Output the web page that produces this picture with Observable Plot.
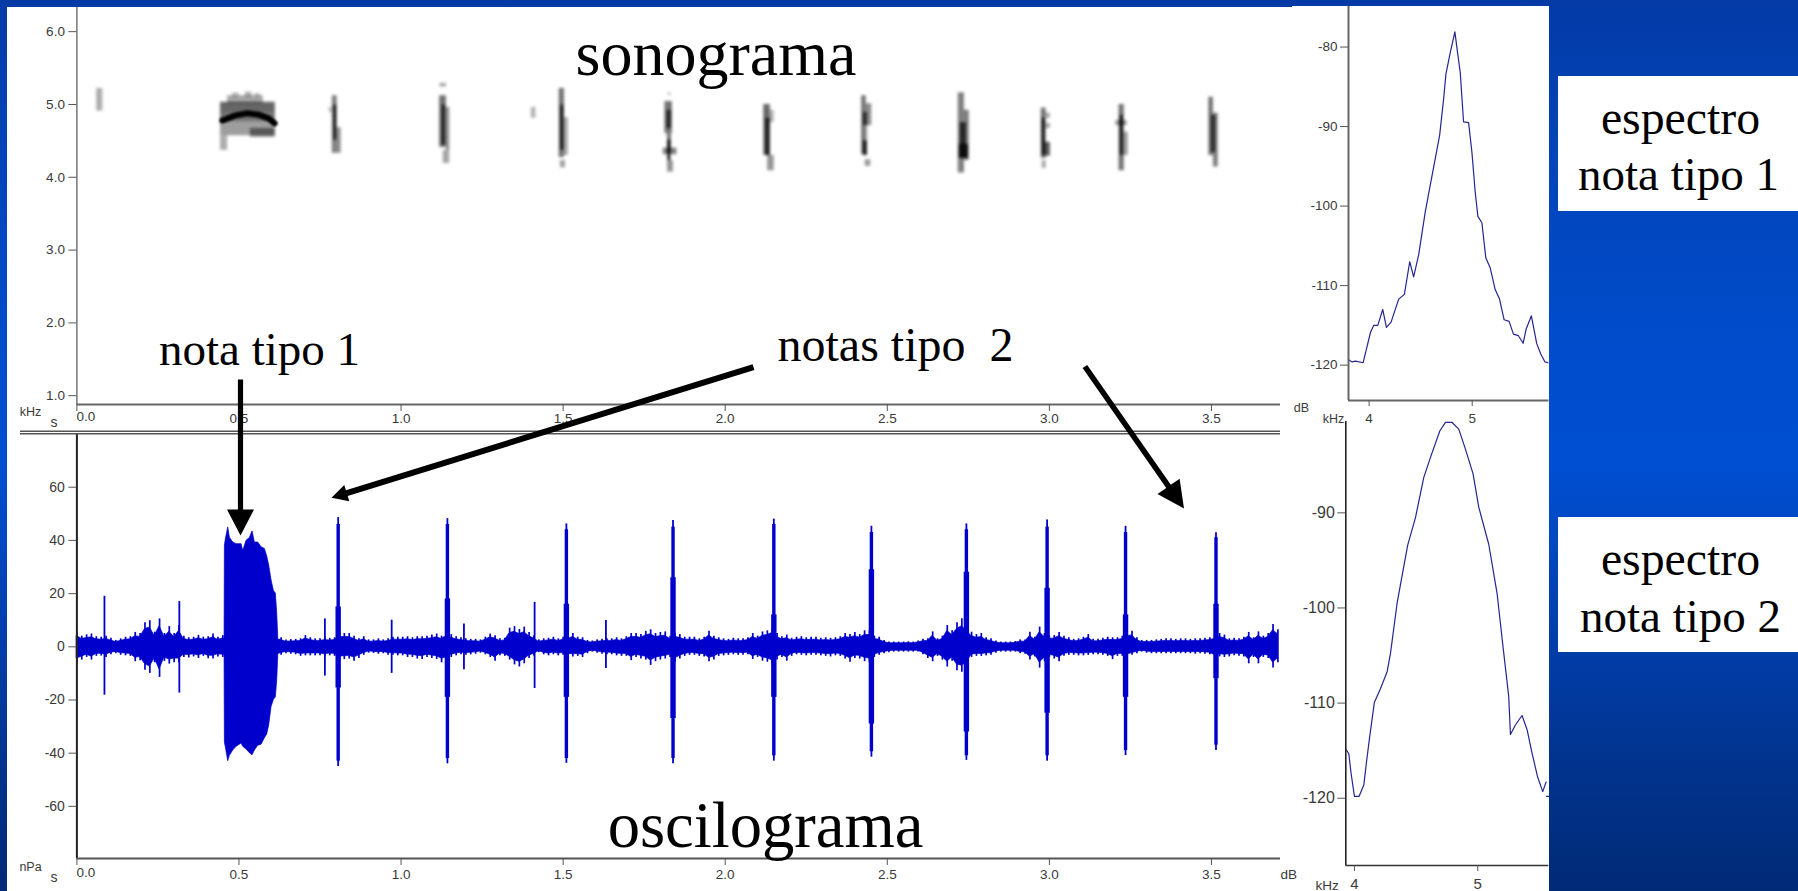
<!DOCTYPE html>
<html lang="es">
<head>
<meta charset="utf-8">
<title>sonograma y oscilograma</title>
<script src="https://cdn.jsdelivr.net/npm/d3@7"></script>
<script src="https://cdn.jsdelivr.net/npm/@observablehq/plot@0.6"></script>
<style>
html,body{margin:0;padding:0;overflow:hidden;background:#0045bd}
#slide{position:relative;width:1798px;height:891px;overflow:hidden;
  background:linear-gradient(180deg,#033aa6 0%,#0342b4 12%,#004ccb 38%,#004fd2 52%,#013fae 70%,#01348f 85%,#012a76 100%)}
.panel{position:absolute;background:#fff}
#slide svg{position:absolute;background:transparent}
</style>
</head>
<body>
<div id="slide">
  <div class="panel" style="left:7px;top:7px;width:1286px;height:884px"></div>
  <div class="panel" style="left:1292px;top:6px;width:256.5px;height:415px"></div>
  <div class="panel" style="left:1292px;top:421px;width:257px;height:470px"></div>
  <div class="panel" style="left:1558px;top:76px;width:240px;height:135px"></div>
  <div class="panel" style="left:1558px;top:517px;width:240px;height:135px"></div>
</div>
<script>
// ---------- shared tick values ----------
const timeTicks = [0, 0.5, 1.0, 1.5, 2.0, 2.5, 3.0, 3.5];
const freqTicks = [1, 2, 3, 4, 5, 6];
const pressureTicks = [-60, -40, -20, 0, 20, 40, 60];
const spectrum1Ticks = [-80, -90, -100, -110, -120];
const spectrum2Ticks = [-90, -100, -110, -120];
const spectrumKhzTicks = [4, 5];

// ---------- sonogram: patches of energy, [s from, s to, kHz low, kHz high, darkness] ----------
const sonogramPatches = [
  [.061,.080,4.91,5.22,.32],
  [.465,.575,5.01,5.12,.35],[.48,.5,5.1,5.16,.25],[.52,.54,5.1,5.17,.3],[.55,.565,5.1,5.15,.25],
  [.443,.612,4.88,5.03,.6],[.443,.612,4.76,4.88,.55],[.443,.612,4.57,4.76,.38],
  [.443,.465,4.37,4.57,.32],[.535,.612,4.55,4.67,.45],
  [.788,.803,4.33,5.12,.5],[.793,.801,4.51,4.99,.9],[.803,.815,4.33,4.68,.45],[.778,.788,4.89,4.96,.25],
  [1.12,1.14,5.24,5.29,.35],[1.119,1.14,4.41,5.12,.55],[1.127,1.136,4.44,4.99,.8],[1.14,1.15,4.37,4.96,.45],[1.13,1.15,4.19,4.37,.35],
  [1.402,1.416,4.81,4.96,.3],
  [1.488,1.504,4.27,5.22,.55],[1.493,1.502,4.37,4.99,.85],[1.504,1.516,4.3,4.82,.35],[1.492,1.507,4.13,4.23,.38],
  [1.825,1.832,5.12,5.16,.3],[1.814,1.837,4.6,5.04,.55],[1.82,1.834,4.67,4.92,.65],[1.822,1.834,4.34,4.6,.55],[1.823,1.832,4.23,4.51,.9],[1.809,1.851,4.31,4.4,.5],[1.822,1.84,4.07,4.23,.42],
  [2.119,2.139,4.3,5.0,.6],[2.125,2.139,4.3,4.81,.7],[2.139,2.151,4.75,4.92,.3],[2.131,2.151,4.09,4.3,.42],
  [2.421,2.435,4.31,5.12,.55],[2.435,2.452,4.71,5.01,.45],[2.435,2.44,4.5,4.71,.3],[2.426,2.439,4.3,4.5,.8],[2.426,2.439,4.71,4.89,.65],[2.432,2.449,4.15,4.24,.4],
  [2.719,2.738,4.06,5.16,.5],[2.738,2.753,4.23,4.92,.5],[2.725,2.744,4.44,4.75,.7],[2.722,2.75,4.26,4.45,.9],
  [2.975,2.99,4.26,4.95,.55],[2.99,3.003,4.81,4.88,.35],[2.99,3.003,4.67,4.74,.35],[2.978,2.987,4.3,4.81,.85],[2.987,3.003,4.29,4.48,.65],[2.978,2.99,4.12,4.23,.35],
  [3.215,3.231,4.09,5.0,.55],[3.219,3.228,4.3,4.85,.85],[3.205,3.24,4.71,4.78,.4],[3.231,3.243,4.3,4.62,.4],
  [3.492,3.506,4.3,5.1,.55],[3.506,3.521,4.14,4.88,.5],[3.5,3.513,4.34,4.85,.65]
];
const noteArchTime = [.449,.489,.526,.56,.591,.61];
const noteArchFreq = [4.78,4.85,4.88,4.86,4.81,4.74];

// ---------- oscillogram ----------
const noiseStep = 0.015; // seconds between readings of the background envelope
const noiseUp = [5.5,4,4.5,4.8,3.8,3.6,4,3.2,2.4,3,3.6,3.8,5.4,5,9,9.8,5.5,10.5,5,7.6,5,8,4,3.4,3.6,4.3,3.6,3.8,4.8,3.6,4.2,
  4,4,4,4,4,4,4,4,4,4,4,
  3.4,2.6,2.7,2.8,3,4.2,3.4,3,3,3.4,3.2,3.4,5,5,5,4,3,3.8,2.6,2.6,3,2.6,3,3.6,3.6,3.6,3.8,3.4,3.8,3.8,4,4.4,4.8,4,5.5,4.6,3.8,3.4,3,2.8,2.8,
  2.6,3.6,4.8,4.2,3,3.2,7,7.6,6.5,7.4,5.4,4.2,2.6,3,3.2,3.6,3,3.6,4,5,3.6,3.4,2.4,2.2,2.6,2.8,3,3,3.4,3,3.8,5,5,4.6,5.8,6.4,5,5.4,5.6,4,5,4.6,3.6,3.6,3.6,3,3.6,5.8,4,3.4,3,2.8,3.2,3,3,3.4,5,4,5.6,6,7,5,3.8,4.4,3.2,3.6,3.8,3.4,3.6,3.6,3.2,3.4,3.2,3.4,3.8,5,4.6,5.4,4.6,6,6,
  4,3.6,2.4,1.8,1.8,1.8,1.8,1.9,1.8,2.2,2.8,3,5.6,3,4,8,6,9,10.5,8,5.5,4.6,5,3.4,3,2.2,1.8,1.8,1.8,2,2.6,2.6,5.5,3.6,7.4,5,4,4.2,5.4,4,3.4,2.8,3,3.6,4.6,2.8,2.8,3.2,3.6,3.4,3.4,4,5.4,5.8,3.4,2.4,2.4,2.4,2.6,2.8,3,3,2.8,3,3,2.8,3,3,3.2,3.4,4,5,4.4,3,3.2,3,3.6,5.4,3.4,5.6,4,5,8.4,6.4];
const noiseDown = [-6,-5,-4,-5,-3.6,-3.5,-4,-3,-2.6,-3.2,-3.4,-3.6,-5.6,-5.2,-8.8,-10,-6,-11.5,-5.5,-6.5,-6,-6,-4,-4.2,-3.8,-4.4,-3.6,-4.5,-4.6,-3.8,-4,
  -4,-4,-4,-4,-4,-4,-4,-4,-4,-4,-4,
  -3.2,-2.6,-2.8,-3,-3.6,-3.4,-3.4,-3.4,-3.4,-3.8,-3.4,-3.6,-5,-4.8,-4.6,-5.4,-4.4,-3.2,-2.4,-2.5,-2.8,-2.6,-3.2,-3.2,-3.4,-3.4,-4,-4,-4.6,-4.8,-4,-4.4,-4.8,-6,-5.5,-4,-3.4,-3,-3.2,-3,-2.8,
  -2.4,-3,-4,-5.4,-3.4,-3.6,-5,-6.8,-7.6,-6.4,-4.4,-3.6,-2.2,-3,-3.4,-3,-3.4,-3.2,-3.6,-3.8,-3.6,-4,-2.6,-2,-2.4,-2.8,-3,-3,-3.4,-3.6,-3.6,-5.2,-4,-4.6,-5,-7,-5.6,-5,-4.6,-4,-6,-4.6,-3.6,-3.2,-3.2,-3.6,-3.8,-5.6,-5,-3.6,-3.4,-3.2,-3,-3.2,-3.2,-3,-4.8,-4,-5.4,-5.8,-7,-5,-4,-5.4,-3.6,-3,-3.2,-3.4,-3.2,-3.2,-3.4,-3.6,-3.8,-3.4,-3.6,-4.6,-5.8,-4.4,-4.6,-5.6,-6,
  -4,-3.2,-2.6,-2.2,-2,-2,-2,-2,-2,-2,-3,-4.4,-5.6,-3.6,-5,-7.6,-5.4,-9,-9.6,-8,-4,-3.6,-3.6,-3.4,-3.2,-2.4,-2,-2,-2,-2,-2.6,-2.8,-5,-3.8,-8,-5.6,-4,-4.6,-5.6,-3.6,-3.2,-3.2,-3.4,-3.4,-3.2,-3,-3,-3.2,-3.6,-4.8,-3.6,-3.6,-4,-3.2,-2.6,-2,-2.4,-2.6,-2.6,-2.6,-2.6,-2.6,-2.6,-2.6,-2.6,-2.6,-2.8,-2.6,-2.8,-3,-4.2,-3.8,-4,-3.8,-3.4,-3.6,-3.8,-6.4,-4,-6.4,-4,-4.4,-8,-6];

const burstTime = [.4555,.4565,.4596,.4668,.472,.4822,.4925,.508,.513,.5234,.5336,.5419,.549,.5594,.5696,.5799,.587,.5933,.6005,.6077,.6138,.618,.621];
const burstUp   = [3,38,40.5,44.9,41,39.2,38.6,38.6,36,39.9,40.9,43.4,39.2,39.2,37.4,36.8,34,30.5,25,21,20,12.4,4];
const burstDown = [-3,-36,-38,-43,-41,-39,-37.6,-36.4,-37.6,-38.6,-40,-40.8,-39,-37.2,-36.8,-34.4,-33,-29.5,-22.6,-20,-19,-12.6,-4];

const spikeTime = [.085,.316,.765,.806,.971,1.143,1.194,1.412,1.510,1.632,1.839,2.150,2.451,2.744,2.993,3.235,3.514];
const spikeUp   = [19,17,10.5,48.6,10,48.2,8.6,16.7,46.2,9.9,47.5,48,45.3,46.2,47.7,45.3,42.9];
const spikeDown = [-18.2,-17.4,-11,-45,-10,-44,-8.6,-15.7,-43.8,-8.2,-44,-43,-41.5,-42.7,-43,-40.9,-39];
const mainSpikeTime = [.806,1.143,1.510,1.839,2.150,2.451,2.744,2.993,3.235,3.514];
const mainSpikeUp   = [46,46,44,45,46,43,44,45,43,41];
const mainSpikeDown = [-43,-42,-42,-42,-41,-39.5,-41,-41,-39,-37];
const shoulderTime = mainSpikeTime;
const shoulderUp   = [15,18,16,26,12,29,28,22,12,16];
const shoulderDown = [-15.5,-19,-19,-27,-19,-29,-32,-25,-19,-12];

// ---------- spectra ----------
const spectrum1Khz = [3.8,3.835,3.868,3.942,3.974,4.013,4.045,4.084,4.132,4.168,4.213,4.287,4.342,4.394,4.432,4.481,4.545,4.594,4.684,4.723,4.745,4.787,4.832,4.858,4.884,4.916,4.965,4.997,5.029,5.055,5.094,5.132,5.174,5.223,5.265,5.31,5.358,5.4,5.448,5.494,5.523,5.574,5.626,5.665,5.706,5.735];
const spectrum1Db  = [-119.33,-119.6,-119.5,-119.7,-118,-115.9,-115,-115,-113,-115.25,-114.6,-111.7,-111.1,-107,-108.9,-106.1,-100.7,-97.3,-91.1,-86.5,-83.4,-80.7,-78.1,-80.7,-83.2,-89.4,-89.5,-93.2,-98.2,-101.3,-102.1,-106.5,-107.75,-110.5,-111.7,-114.3,-114.5,-116.1,-116.3,-117.25,-115.5,-113.8,-117.3,-118.6,-119.6,-119.7];
const spectrum2Khz = [3.932,3.954,3.973,4,4.038,4.076,4.097,4.124,4.162,4.211,4.265,4.292,4.346,4.395,4.432,4.495,4.562,4.616,4.692,4.738,4.792,4.846,4.9,4.962,5.008,5.089,5.157,5.205,5.251,5.265,5.305,5.359,5.4,5.441,5.486,5.527,5.554,5.555,5.557,5.576];
const spectrum2Db  = [-114.9,-115.3,-117.4,-119.8,-119.8,-118.6,-116.3,-113.5,-109.9,-108.5,-106.7,-104.8,-99.5,-96,-93.4,-90.5,-86.3,-84.2,-81.4,-80.5,-80.5,-81.2,-83.3,-85.9,-89.4,-93.3,-98.5,-104.1,-109.3,-113.3,-112.3,-111.3,-112.8,-115.3,-117.8,-119.3,-118.3,NaN,-119.8,-119.8];

// ---------- slide texts ----------
const headings = ["sonograma","oscilograma"];
const noteLabels = ["nota tipo 1","notas tipo\u00a0\u00a02"];
const spectrumLabels = ["espectro","nota tipo 1","espectro","nota tipo 2"];

// ---------- helpers ----------
const slide = document.getElementById("slide");
const SANS = "'Liberation Sans',Arial,sans-serif";
const SERIF = "'Liberation Serif','Times New Roman',serif";
const INK = "#3a3a3a";
const WAVE = "#0000cc";
function place(svg, left, top){
  svg.style.left = left + "px";
  svg.style.top = top + "px";
  slide.appendChild(svg);
}
const one = d => d.toFixed(1);
const timeLabel = d => d === 0 ? "" : one(d);
const plain = d => String(d);
const bandShare = 0.74; // the solid band sits inside the jagged peaks of the envelope

// sonogram
place(Plot.plot({
  width:1290, height:425, marginLeft:76.4, marginRight:10, marginTop:0, marginBottom:28,
  x:{domain:[0,3.713]}, y:{domain:[0.879,6.332]},
  opacity:{type:"identity"},
  style:{fontFamily:SANS,overflow:"visible",background:"transparent"},
  marks:[
    Plot.rect(sonogramPatches,{x1:d=>d[0],x2:d=>d[1],y1:d=>d[2],y2:d=>d[3],fill:"#000",fillOpacity:d=>d[4],inset:0,imageFilter:"blur(1.4px)"}),
    Plot.line(noteArchTime,{x:d=>d,y:(d,i)=>noteArchFreq[i],stroke:"#000",strokeWidth:6,imageFilter:"blur(1.2px)"}),
    Plot.ruleX([0],{stroke:"#555",strokeWidth:1.2}),
    Plot.ruleY([0.879],{stroke:"#666",strokeWidth:2}),
    Plot.axisY({ticks:freqTicks,tickSize:8,tickPadding:4,tickFormat:one,fontSize:13.5,color:INK,stroke:"#555",label:null}),
    Plot.axisX({ticks:timeTicks,tickSize:7,tickPadding:2,tickFormat:timeLabel,fontSize:13.5,color:INK,stroke:"#555",label:null}),
    Plot.text(["0.0"],{x:0,frameAnchor:"bottom",dx:9,dy:16,fontSize:13.5,fill:INK,text:d=>d})
  ]
}),0,7);

// oscillogram
place(Plot.plot({
  width:1290, height:453, marginLeft:76.4, marginRight:10, marginTop:0, marginBottom:28,
  x:{domain:[0,3.713]}, y:{domain:[-79.6,80.2]},
  style:{fontFamily:SANS,overflow:"visible",background:"transparent"},
  marks:[
    Plot.areaY(noiseUp,{x:(d,i)=>i*noiseStep,y1:(d,i)=>noiseDown[i]*bandShare,y2:d=>d*bandShare,fill:WAVE,stroke:WAVE,strokeWidth:.7}),
    Plot.ruleX(noiseUp,{x:(d,i)=>i*noiseStep,y1:(d,i)=>noiseDown[i],y2:d=>d,stroke:WAVE,strokeWidth:1.7}),
    Plot.areaY(burstTime,{x:d=>d,y1:(d,i)=>burstDown[i],y2:(d,i)=>burstUp[i],fill:WAVE,stroke:WAVE,strokeWidth:.7}),
    Plot.ruleX(spikeTime,{x:d=>d,y1:(d,i)=>spikeDown[i],y2:(d,i)=>spikeUp[i],stroke:WAVE,strokeWidth:1.8}),
    Plot.ruleX(mainSpikeTime,{x:d=>d,y1:(d,i)=>mainSpikeDown[i],y2:(d,i)=>mainSpikeUp[i],stroke:WAVE,strokeWidth:3.4}),
    Plot.ruleX(shoulderTime,{x:d=>d,y1:(d,i)=>shoulderDown[i],y2:(d,i)=>shoulderUp[i],stroke:WAVE,strokeWidth:5.4}),
    Plot.ruleX([0],{stroke:"#222",strokeWidth:2}),
    Plot.ruleY([-79.6],{stroke:"#555",strokeWidth:2}),
    Plot.axisY({ticks:pressureTicks,tickSize:8,tickPadding:4,tickFormat:plain,fontSize:14,color:INK,stroke:"#555",label:null}),
    Plot.axisX({ticks:timeTicks,tickSize:7,tickPadding:4,tickFormat:timeLabel,fontSize:13.5,color:INK,stroke:"#555",label:null}),
    Plot.text(["0.0"],{x:0,frameAnchor:"bottom",dx:9,dy:18,fontSize:13.5,fill:INK,text:d=>d})
  ]
}),0,433);

// spectrum of note type 1
place(Plot.plot({
  width:257, height:422, marginLeft:56, marginRight:0.5, marginTop:0, marginBottom:28,
  x:{domain:[3.8,5.745]}, y:{domain:[-124.45,-74.9]},
  style:{fontFamily:SANS,overflow:"visible",background:"transparent"},
  marks:[
    Plot.line(spectrum1Khz,{x:d=>d,y:(d,i)=>spectrum1Db[i],stroke:"#25258f",strokeWidth:1.2}),
    Plot.ruleX([3.8],{stroke:"#666",strokeWidth:2}),
    Plot.ruleY([-124.45],{stroke:"#666",strokeWidth:2}),
    Plot.axisY({ticks:spectrum1Ticks,tickSize:8,tickPadding:3,tickFormat:plain,fontSize:13.5,color:INK,stroke:"#555",label:null}),
    Plot.axisX({ticks:spectrumKhzTicks,tickSize:6,tickPadding:7,tickFormat:plain,fontSize:13.5,color:INK,stroke:"#555",label:null})
  ]
}),1292,6);

// spectrum of note type 2
place(Plot.plot({
  width:257, height:472, marginLeft:53.3, marginRight:0.7, marginTop:0, marginBottom:28,
  x:{domain:[3.93,5.576]}, y:{domain:[-127.07,-80.4]},
  style:{fontFamily:SANS,overflow:"visible",background:"transparent"},
  marks:[
    Plot.line(spectrum2Khz,{x:d=>d,y:(d,i)=>spectrum2Db[i],stroke:"#25258f",strokeWidth:1.2}),
    Plot.ruleX([3.93],{stroke:"#222",strokeWidth:1.6}),
    Plot.ruleY([-127.07],{stroke:"#333",strokeWidth:1.6}),
    Plot.axisY({ticks:spectrum2Ticks,tickSize:8,tickPadding:3,tickFormat:plain,fontSize:16,color:INK,stroke:"#555",label:null}),
    Plot.axisX({ticks:spectrumKhzTicks,tickSize:6,tickPadding:7,tickFormat:plain,fontSize:15,color:INK,stroke:"#555",label:null})
  ]
}),1292,421);

// arrows, headings and unit labels laid over the whole slide (x and y here are page pixels)
const arrowShape = (headLength, headWidth, shaft) => ({
  draw(ctx, l) {
    ctx.moveTo(-shaft / 2, 0);
    ctx.lineTo(-shaft / 2, headLength - l);
    ctx.lineTo(-headWidth / 2, headLength - l);
    ctx.lineTo(0, -l);
    ctx.lineTo(headWidth / 2, headLength - l);
    ctx.lineTo(shaft / 2, headLength - l);
    ctx.lineTo(shaft / 2, 0);
    ctx.closePath();
  }
});
const arrow = (x1, y1, x2, y2, shape) => Plot.vector([0], {
  x: x1, y: y1, anchor: "start",
  length: Math.hypot(x2 - x1, y2 - y1),
  rotate: Math.atan2(x2 - x1, y1 - y2) * 180 / Math.PI,
  shape, fill: "#000", stroke: "none"
});
const say = (text, x, y, fontSize, fontFamily = SERIF, fill = "#000") =>
  Plot.text([text], {x, y, text: d => d, fontSize, fontFamily, fill, textAnchor: "middle", lineAnchor: "bottom"});

place(Plot.plot({
  width:1798, height:891, margin:0,
  x:{type:"identity",axis:null}, y:{type:"identity",axis:null},
  length:{type:"identity"},
  style:{overflow:"visible",background:"transparent"},
  marks:[
    Plot.ruleY([430.7,433.2],{x1:20,x2:1280,stroke:"#555",strokeWidth:1.4}),
    arrow(240,379,240,535,arrowShape(26,27,5.2)),
    arrow(753,366.7,331,497.3,arrowShape(16,17,6)),
    arrow(1084.4,366,1183.5,508,arrowShape(27,27,5.6)),
    say(headings[0],715.5,74,64),
    say(headings[1],765,846,64.6),
    say(noteLabels[0],259,364,47),
    say(noteLabels[1],895,360,48),
    say(spectrumLabels[0],1680,133,47.8),
    say(spectrumLabels[1],1678,189,47),
    say(spectrumLabels[2],1680,574,47.8),
    say(spectrumLabels[3],1680,631,47),
    say("kHz",30,415,12.5,SANS,INK),
    say("s",53.4,426,14,SANS,INK),
    say("dB",1301,411,12.5,SANS,INK),
    say("kHz",1333,422,12.5,SANS,INK),
    say("nPa",30,870,12.5,SANS,INK),
    say("s",53.4,881,14,SANS,INK),
    say("dB",1288.3,878,13.5,SANS,INK),
    say("kHz",1326.7,889,13.5,SANS,INK)
  ]
}),0,0);
</script>
</body>
</html>
